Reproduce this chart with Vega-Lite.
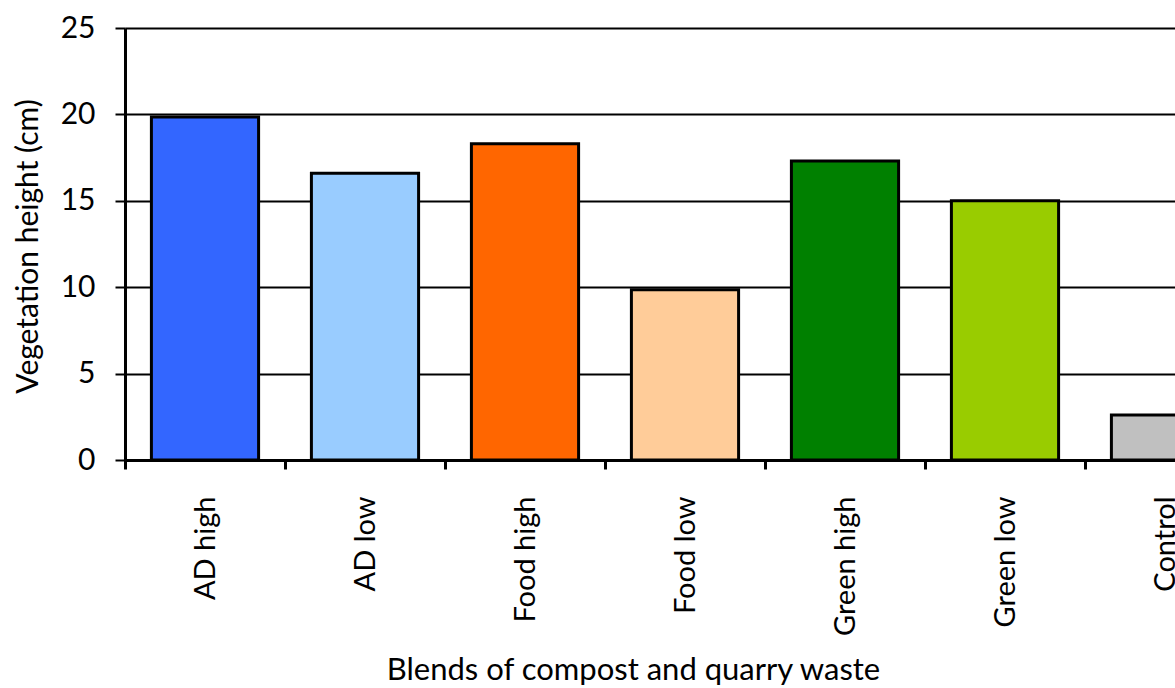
{
  "$schema": "https://vega.github.io/schema/vega-lite/v6.json",
  "width": 1120,
  "height": 432,
  "autosize": "none",
  "padding": {"left": 125, "top": 28, "right": 0, "bottom": 228},
  "background": "white",
  "config": {
    "view": {"stroke": null},
    "font": "Lato",
    "axis": {"labelFont": "Lato", "titleFont": "Lato", "labelColor": "black", "titleColor": "black", "titleFontWeight": "normal"}
  },
  "data": {
    "values": [
      {"blend": "AD high", "height": 19.85},
      {"blend": "AD low", "height": 16.6},
      {"blend": "Food high", "height": 18.3},
      {"blend": "Food low", "height": 9.85},
      {"blend": "Green high", "height": 17.3},
      {"blend": "Green low", "height": 15.0},
      {"blend": "Control", "height": 2.6}
    ]
  },
  "mark": {"type": "bar", "width": {"band": 0.67}, "stroke": "black", "strokeWidth": 3},
  "encoding": {
    "x": {
      "field": "blend",
      "type": "nominal",
      "sort": null,
      "scale": {"paddingInner": 0, "paddingOuter": 0},
      "axis": {
        "title": "Blends of compost and quarry waste",
        "titleFontSize": 31,
        "titleX": 508,
        "titleY": 219,
        "titleBaseline": "alphabetic",
        "labelAngle": -90,
        "labelFontSize": 29,
        "labelPadding": 27,
        "tickSize": 9,
        "tickWidth": 3,
        "tickColor": "black",
        "tickBand": "extent",
        "domainColor": "black",
        "domainWidth": 3,
        "grid": false
      }
    },
    "y": {
      "field": "height",
      "type": "quantitative",
      "scale": {"domain": [0, 25]},
      "axis": {
        "title": "Vegetation height (cm)",
        "titleFontSize": 30,
        "titleX": -97,
        "titleY": 218,
        "titleAngle": -90,
        "titleBaseline": "middle",
        "titleAnchor": "middle",
        "values": [0, 5, 10, 15, 20, 25],
        "labelFontSize": 30,
        "labelPadding": 20,
        "tickSize": 10,
        "tickWidth": 2,
        "tickColor": "black",
        "domainColor": "black",
        "domainWidth": 3,
        "grid": true,
        "gridColor": "black",
        "gridWidth": 2,
        "gridOpacity": 1
      }
    },
    "color": {
      "field": "blend",
      "type": "nominal",
      "legend": null,
      "scale": {
        "domain": ["AD high", "AD low", "Food high", "Food low", "Green high", "Green low", "Control"],
        "range": ["#3366FF", "#99CCFF", "#FF6600", "#FFCC99", "#008000", "#99CC00", "#C0C0C0"]
      }
    }
  }
}
